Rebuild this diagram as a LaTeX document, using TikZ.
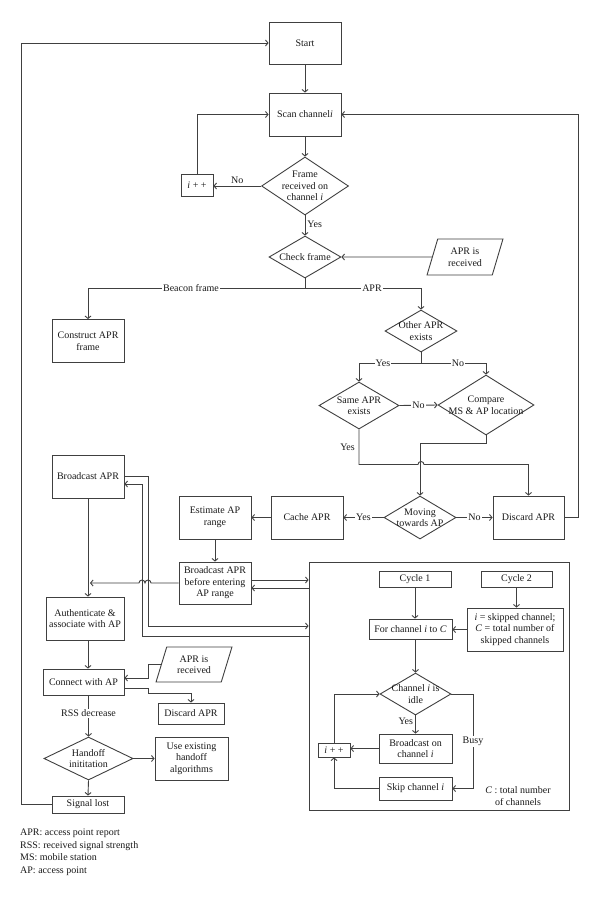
\documentclass[tikz,border=0pt]{standalone}
\usepackage{fontspec}
\setmainfont{Liberation Serif}
\usetikzlibrary{arrows.meta,shapes.geometric,calc}
\definecolor{lc}{HTML}{404040}
\definecolor{tc}{HTML}{1A1A1A}
\newcommand\myfs{\fontsize{10}{11.5}\selectfont}
\begin{document}
\begin{tikzpicture}[x=1pt,y=-1pt,
  line/.style={draw=lc, line width=0.9pt},
  arr/.style={line, -{Straight Barb[length=2.5pt,width=6pt]}},
  txt/.style={align=center, font=\myfs, text=tc, inner sep=0pt},
  box/.style={draw=lc, line width=0.9pt, rectangle, align=center, inner sep=1pt, font=\myfs, text=tc},
  dia/.style={draw=lc, line width=0.9pt, diamond, inner sep=0pt},
  para/.style={draw=lc, line width=0.9pt, trapezium, trapezium left angle=70, trapezium right angle=110, trapezium stretches=true, align=center, inner sep=0pt, font=\myfs, text=tc},
  lbl/.style={fill=white, inner sep=1pt, font=\myfs, text=tc}]
\useasboundingbox[fill=white] (0,0) rectangle (600,899);

% level coordinates
\coordinate (x148) at (148,0);
\coordinate (x142) at (142,0);
\coordinate (x21) at (21,0);
\coordinate (x473) at (473,0);
\coordinate (y464) at (0,464.5);
\coordinate (y484) at (0,484);
\coordinate (y580) at (0,580);
\coordinate (y588) at (0,588);
\coordinate (y626) at (0,626);
\coordinate (y636) at (0,636);
\coordinate (y678) at (0,678);
\coordinate (y688) at (0,688);
\coordinate (y693) at (0,693);

% main column
\node[box, minimum width=72pt, minimum height=42pt] (start) at (305,43) {Start};
\node[box, minimum width=72pt, minimum height=43pt] (scan) at (305,114.5) {Scan channel\textit{i}};
\node[dia, minimum width=87pt, minimum height=58pt, label={[txt]center:Frame\\received on\\channel \textit{i}}] (frame) at (305,186) {};
\node[box, minimum width=32pt, minimum height=22pt] (inc1) at (197,185.5) {\textit{i} + +};
\node[dia, minimum width=72pt, minimum height=42pt, label={[txt]center:Check frame}] (check) at (305,257) {};
\node[para, minimum width=76pt, minimum height=36pt] (aprin1) at (465,257) {APR is\\received};
\coordinate (br1) at (305,288.5);
\node[box, minimum width=72pt, minimum height=43pt] (construct) at (88,341) {Construct APR\\frame};
\node[dia, minimum width=72pt, minimum height=42pt, label={[txt]center:Other APR\\exists}] (other) at (421,331) {};
\coordinate (br2) at (421,363);
\node[dia, minimum width=80pt, minimum height=47pt, label={[txt]center:Same APR\\exists}] (same) at (359,405.5) {};
\node[dia, minimum width=96pt, minimum height=60pt, label={[txt]center:Compare\\MS \& AP location}] (compare) at (486,405) {};
\node[box, minimum width=72pt, minimum height=43pt] (bcast) at (88,476.5) {Broadcast APR};
\node[dia, minimum width=72pt, minimum height=43pt, label={[txt]center:Moving\\towards AP}] (moving) at (420,517.5) {};
\node[box, minimum width=71pt, minimum height=43pt] (discard1) at (528.5,517.5) {Discard APR};
\node[box, minimum width=72pt, minimum height=43pt] (cache) at (307,517.5) {Cache APR};
\node[box, minimum width=72pt, minimum height=43pt] (estimate) at (215,517.5) {Estimate AP\\range};
\node[box, minimum width=72pt, minimum height=42pt] (before) at (215,583) {Broadcast APR\\before entering\\AP range};
\node[box, minimum width=78pt, minimum height=43pt] (auth) at (85,618.5) {Authenticate \&\\associate with AP};
\node[box, minimum width=81pt, minimum height=26pt] (connect) at (83.5,682) {Connect with AP};
\node[para, minimum width=76pt, minimum height=35pt] (aprin2) at (194,664.5) {APR is\\received};
\node[box, minimum width=66pt, minimum height=21pt] (discard2) at (191,713.5) {Discard APR};
\node[dia, minimum width=89pt, minimum height=43pt, label={[txt]center:Handoff\\inititation}] (handoff) at (88.5,758.5) {};
\node[box, minimum width=73pt, minimum height=43pt] (useex) at (191.5,758.5) {Use existing\\handoff\\algorithms};
\node[box, minimum width=72pt, minimum height=17pt] (signal) at (88,804.5) {Signal lost};

% inner box
\node[draw=lc, line width=0.9pt, minimum width=260pt, minimum height=248pt, inner sep=0pt] (bigbox) at (439,686) {};
\node[box, minimum width=72pt, minimum height=16pt] (cycle1) at (415,579) {Cycle 1};
\node[box, minimum width=71pt, minimum height=16pt] (cycle2) at (516.5,579) {Cycle 2};
\node[box, minimum width=83pt, minimum height=20pt] (forch) at (410.5,629) {For channel \textit{i} to \textit{C}};
\node[box, minimum width=96pt, minimum height=43pt] (skipped) at (515,629.5) {\textit{i} = skipped channel;\\\textit{C} = total number of\\skipped channels};
\node[dia, minimum width=71pt, minimum height=42pt, label={[txt]center:Channel \textit{i} is\\idle}] (idle) at (415.5,694) {};
\node[box, minimum width=73pt, minimum height=29pt] (bcon) at (415.5,748.5) {Broadcast on\\channel \textit{i}};
\node[box, minimum width=32pt, minimum height=14pt] (inc2) at (334,750) {\textit{i} + +};
\node[box, minimum width=73pt, minimum height=23pt] (skip) at (415.5,788.5) {Skip channel \textit{i}};
\node[txt] (ctext) at (518,796) {\textit{C} : total number\\of channels};

% legend
\node[txt, anchor=north west, align=left, font=\fontsize{10}{12.7}\selectfont] (legend) at (20,828.5) {APR: access point report\\RSS: received signal strength\\MS: mobile station\\AP: access point};

% connectors, top
\draw[arr] (start) -- (scan);
\draw[arr] (scan) -- (frame);
\draw[arr] (frame.west) -- node[txt, above=1.5pt]{No} (frame.west -| inc1.east);
\draw[arr] (inc1.north) |- (scan.west);
\draw[arr] (frame.south) -- node[txt, right=2pt, pos=0.45]{Yes} (check.north);
\draw[arr] (aprin1.west) -- (check.east);
\draw[line] (check.south) -- (br1);
\draw[arr] (br1) -| (construct.north);
\draw[arr] (br1) -| (other.north);
\node[lbl] (lbeacon) at (191,288.5) {Beacon frame};
\node[lbl] (lapr) at (372,288.5) {APR};
\draw[line] (other.south) -- (br2);
\draw[arr] (br2) -| (same.north);
\draw[arr] (br2) -| (compare.north);
\node[lbl] (lyes1) at (383,363) {Yes};
\node[lbl] (lno1) at (458,363) {No};
\draw[arr] (same.east) -- node[lbl]{No} (compare.west);
\draw[arr] (compare.south) -- ++(0,8) -| (moving.north);
\draw[arr] (same.south) -- (same.south |- y464) -- (418,464.5) arc[start angle=180,end angle=0,radius=3pt] -- (discard1.north |- y464) -- (discard1.north);
\node[txt, anchor=east] (lyes2) at (355,447) {Yes};
\draw[arr] (moving.west) -- node[lbl]{Yes} (cache.east);
\draw[arr] (moving.east) -- node[lbl]{No} (discard1.west);
\draw[arr] (discard1.east) -- ++(14,0) |- (scan.east);
\draw[arr] (cache.west) -- (estimate.east);
\draw[arr] (estimate) -- (before);

% connectors, middle
\draw[arr] (before.east |- y580) -- (bigbox.west |- y580);
\draw[arr] (bigbox.west |- y588) -- (before.east |- y588);
\draw[arr] (bcast.east) -- (x148 |- bcast.east) -- (x148 |- y626) -- (bigbox.west |- y626);
\draw[arr] (bigbox.west |- y636) -- (x142 |- y636) -- (x142 |- y484) -- (bcast.east |- y484);
\draw[arr, shorten >=2pt] (before.west) -- (151,583) arc[start angle=0,end angle=180,radius=3pt] arc[start angle=0,end angle=180,radius=3pt] -- (bcast.south |- before.west);
\draw[arr] (bcast.south) -- (bcast.south |- auth.north);
\draw[arr] (bcast.south |- auth.south) -- (bcast.south |- connect.north);
\draw[arr] (aprin2.west) -- (x148 |- aprin2.west) -- (x148 |- y678) -- (connect.east |- y678);
\draw[arr] (connect.east |- y688) -- (x148 |- y688) -- (x148 |- y693) -- (discard2.north |- y693) -- (discard2.north);
\draw[arr] (handoff.north |- connect.south) -- node[lbl, pos=0.43]{RSS decrease} (handoff.north);
\draw[arr] (handoff.east) -- (useex.west);
\draw[arr] (handoff.south) -- (signal.north);
\draw[arr] (signal.west) -- (x21 |- signal.west) |- (start.west);

% connectors, inner box
\draw[arr] (cycle1.south) -- (cycle1.south |- forch.north);
\draw[arr] (cycle2.south) -- (cycle2.south |- skipped.north);
\draw[arr] (skipped.west) -- (skipped.west -| forch.east);
\draw[arr] (idle.north |- forch.south) -- (idle.north);
\draw[arr] (idle.south) -- node[txt, left=2pt, pos=0.3]{Yes} (bcon.north);
\draw[arr] (bcon.west) -- (bcon.west -| inc2.east);
\draw[arr] (inc2.north) |- (idle.west);
\draw[arr] (skip.west) -| (inc2.south);
\draw[arr] (idle.east) -- (x473 |- idle.east) -- node[lbl]{Busy} (x473 |- skip.east) -- (skip.east);
\end{tikzpicture}
\end{document}
